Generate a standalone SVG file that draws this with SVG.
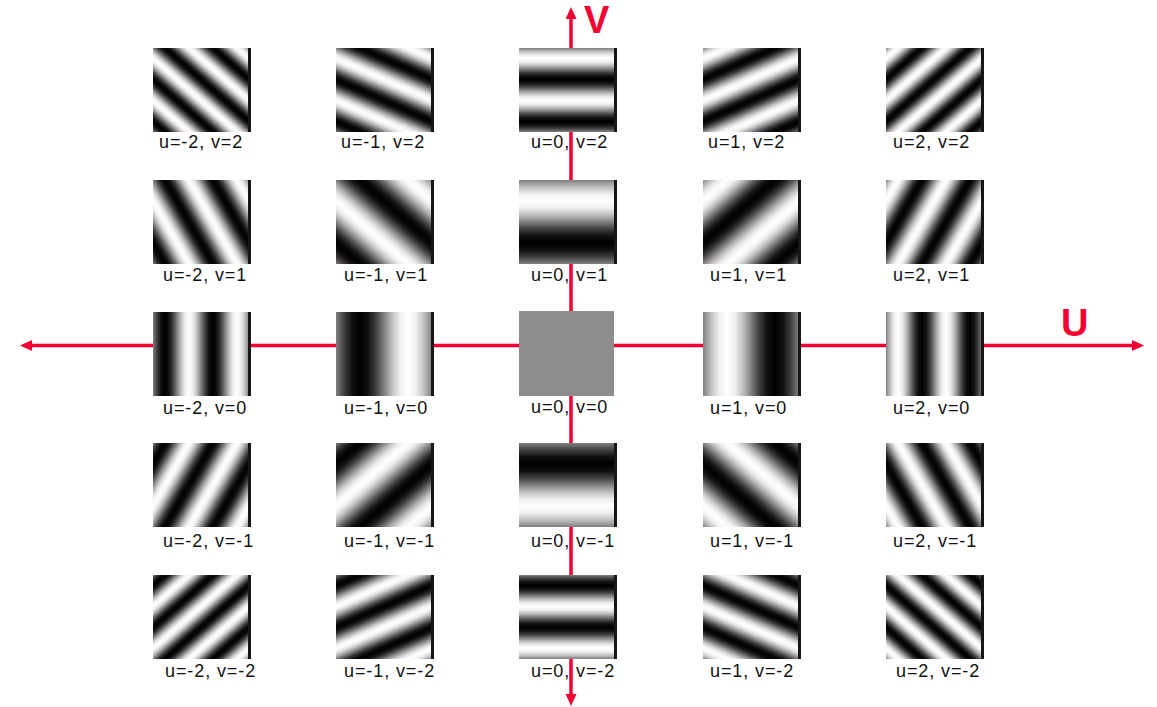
<svg xmlns="http://www.w3.org/2000/svg" xmlns:xlink="http://www.w3.org/1999/xlink" width="1157" height="707" viewBox="0 0 1157 707">
<style>
.lbl{font-family:"Liberation Sans",Arial,sans-serif;font-size:18px;fill:#111;letter-spacing:0.9px}
.axl{font-family:"Liberation Sans",Arial,sans-serif;font-size:38px;font-weight:bold;fill:#f50032}
.edge{fill:#161616}
.axis{stroke:#f50032;stroke-width:3.5;fill:none}
</style>
<defs>
<linearGradient id="wave" gradientUnits="userSpaceOnUse" spreadMethod="repeat" x1="0" y1="0" x2="0" y2="84">
<stop offset="0" stop-color="#808080"/>
<stop offset="0.0833" stop-color="#bfbfbf"/>
<stop offset="0.1667" stop-color="#eeeeee"/>
<stop offset="0.25" stop-color="#ffffff"/>
<stop offset="0.3333" stop-color="#eeeeee"/>
<stop offset="0.4167" stop-color="#bfbfbf"/>
<stop offset="0.5" stop-color="#808080"/>
<stop offset="0.5833" stop-color="#404040"/>
<stop offset="0.6667" stop-color="#111111"/>
<stop offset="0.75" stop-color="#000000"/>
<stop offset="0.8333" stop-color="#111111"/>
<stop offset="0.9167" stop-color="#404040"/>
<stop offset="1" stop-color="#808080"/>
</linearGradient>
<linearGradient id="g_m2_2" xlink:href="#wave" x1="0" y1="0" x2="-20.81" y2="23.79"/>
<linearGradient id="g_m1_2" xlink:href="#wave" x1="0" y1="0" x2="-15.42" y2="35.25"/>
<linearGradient id="g_0_2" xlink:href="#wave" x1="0" y1="0" x2="0" y2="42"/>
<linearGradient id="g_1_2" xlink:href="#wave" x1="0" y1="0" x2="15.42" y2="35.25"/>
<linearGradient id="g_2_2" xlink:href="#wave" x1="0" y1="0" x2="20.81" y2="23.79"/>
<linearGradient id="g_m2_1" xlink:href="#wave" x1="0" y1="0" x2="-36.18" y2="20.68"/>
<linearGradient id="g_m1_1" xlink:href="#wave" x1="0" y1="0" x2="-41.63" y2="47.58"/>
<linearGradient id="g_0_1" xlink:href="#wave" x1="0" y1="0" x2="0" y2="84"/>
<linearGradient id="g_1_1" xlink:href="#wave" x1="0" y1="0" x2="41.63" y2="47.58"/>
<linearGradient id="g_2_1" xlink:href="#wave" x1="0" y1="0" x2="36.18" y2="20.68"/>
<linearGradient id="g_m2_0" xlink:href="#wave" x1="0" y1="0" x2="-48" y2="0"/>
<linearGradient id="g_m1_0" xlink:href="#wave" x1="0" y1="0" x2="-96" y2="0"/>
<linearGradient id="g_1_0" xlink:href="#wave" x1="0" y1="0" x2="96" y2="0"/>
<linearGradient id="g_2_0" xlink:href="#wave" x1="0" y1="0" x2="48" y2="0"/>
<linearGradient id="g_m2_m1" xlink:href="#wave" x1="0" y1="0" x2="-36.18" y2="-20.68"/>
<linearGradient id="g_m1_m1" xlink:href="#wave" x1="0" y1="0" x2="-41.63" y2="-47.58"/>
<linearGradient id="g_0_m1" xlink:href="#wave" x1="0" y1="0" x2="0" y2="-84"/>
<linearGradient id="g_1_m1" xlink:href="#wave" x1="0" y1="0" x2="41.63" y2="-47.58"/>
<linearGradient id="g_2_m1" xlink:href="#wave" x1="0" y1="0" x2="36.18" y2="-20.68"/>
<linearGradient id="g_m2_m2" xlink:href="#wave" x1="0" y1="0" x2="-20.81" y2="-23.79"/>
<linearGradient id="g_m1_m2" xlink:href="#wave" x1="0" y1="0" x2="-15.42" y2="-35.25"/>
<linearGradient id="g_0_m2" xlink:href="#wave" x1="0" y1="0" x2="0" y2="-42"/>
<linearGradient id="g_1_m2" xlink:href="#wave" x1="0" y1="0" x2="15.42" y2="-35.25"/>
<linearGradient id="g_2_m2" xlink:href="#wave" x1="0" y1="0" x2="20.81" y2="-23.79"/>
<marker id="arrow" viewBox="0 0 12 11" refX="2" refY="5.5" markerWidth="12" markerHeight="11" markerUnits="userSpaceOnUse" orient="auto-start-reverse">
<path d="M0,0 L12,5.5 L0,11 Z" fill="#f50032"/>
</marker>
</defs>
<rect width="1157" height="707" fill="#ffffff"/>
<g id="connectors">
<line class="axis" x1="30" y1="345.5" x2="1134" y2="345.5" marker-start="url(#arrow)" marker-end="url(#arrow)"/>
<line class="axis" x1="571" y1="17" x2="571" y2="696" marker-start="url(#arrow)" marker-end="url(#arrow)"/>
<text class="axl" x="584" y="33">V</text>
<text class="axl" x="1061" y="336">U</text>
</g>
<!-- row v=2 -->
<g id="tile-u-2-v2" transform="translate(153,48)"><rect width="98" height="84" fill="url(#g_m2_2)"/><rect class="edge" x="95" width="3" height="84"/><text class="lbl" x="6" y="100">u=-2, v=2</text></g>
<g id="tile-u-1-v2" transform="translate(336,48)"><rect width="98" height="84" fill="url(#g_m1_2)"/><rect class="edge" x="95" width="3" height="84"/><text class="lbl" x="5" y="100">u=-1, v=2</text></g>
<g id="tile-u0-v2" transform="translate(519,48)"><rect width="98" height="84" fill="url(#g_0_2)"/><rect class="edge" x="95" width="3" height="84"/><text class="lbl" x="12" y="100">u=0, v=2</text></g>
<g id="tile-u1-v2" transform="translate(703,48)"><rect width="98" height="84" fill="url(#g_1_2)"/><rect class="edge" x="95" width="3" height="84"/><text class="lbl" x="5" y="100">u=1, v=2</text></g>
<g id="tile-u2-v2" transform="translate(886,48)"><rect width="98" height="84" fill="url(#g_2_2)"/><rect class="edge" x="95" width="3" height="84"/><text class="lbl" x="7" y="100">u=2, v=2</text></g>
<!-- row v=1 -->
<g id="tile-u-2-v1" transform="translate(153,180)"><rect width="98" height="84" fill="url(#g_m2_1)"/><rect class="edge" x="95" width="3" height="84"/><text class="lbl" x="10" y="101">u=-2, v=1</text></g>
<g id="tile-u-1-v1" transform="translate(336,180)"><rect width="98" height="84" fill="url(#g_m1_1)"/><rect class="edge" x="95" width="3" height="84"/><text class="lbl" x="8" y="101">u=-1, v=1</text></g>
<g id="tile-u0-v1" transform="translate(519,180)"><rect width="98" height="84" fill="url(#g_0_1)"/><rect class="edge" x="95" width="3" height="84"/><text class="lbl" x="12" y="101">u=0, v=1</text></g>
<g id="tile-u1-v1" transform="translate(703,180)"><rect width="98" height="84" fill="url(#g_1_1)"/><rect class="edge" x="95" width="3" height="84"/><text class="lbl" x="7" y="101">u=1, v=1</text></g>
<g id="tile-u2-v1" transform="translate(886,180)"><rect width="98" height="84" fill="url(#g_2_1)"/><rect class="edge" x="95" width="3" height="84"/><text class="lbl" x="7" y="101">u=2, v=1</text></g>
<!-- row v=0 -->
<g id="tile-u-2-v0" transform="translate(153,312)"><rect width="98" height="84" fill="url(#g_m2_0)"/><rect class="edge" x="95" width="3" height="84"/><text class="lbl" x="10" y="102">u=-2, v=0</text></g>
<g id="tile-u-1-v0" transform="translate(336,312)"><rect width="98" height="84" fill="url(#g_m1_0)"/><rect class="edge" x="95" width="3" height="84"/><text class="lbl" x="8" y="102">u=-1, v=0</text></g>
<g id="tile-u0-v0" transform="translate(519,311)"><rect width="95" height="85" fill="#8d8d8d"/><text class="lbl" x="12" y="102">u=0, v=0</text></g>
<g id="tile-u1-v0" transform="translate(703,312)"><rect width="98" height="84" fill="url(#g_1_0)"/><rect class="edge" x="95" width="3" height="84"/><text class="lbl" x="7" y="102">u=1, v=0</text></g>
<g id="tile-u2-v0" transform="translate(886,312)"><rect width="98" height="84" fill="url(#g_2_0)"/><rect class="edge" x="95" width="3" height="84"/><text class="lbl" x="7" y="102">u=2, v=0</text></g>
<!-- row v=-1 -->
<g id="tile-u-2-v-1" transform="translate(153,443)"><rect width="98" height="84" fill="url(#g_m2_m1)"/><rect class="edge" x="95" width="3" height="84"/><text class="lbl" x="10" y="104">u=-2, v=-1</text></g>
<g id="tile-u-1-v-1" transform="translate(336,443)"><rect width="98" height="84" fill="url(#g_m1_m1)"/><rect class="edge" x="95" width="3" height="84"/><text class="lbl" x="8" y="104">u=-1, v=-1</text></g>
<g id="tile-u0-v-1" transform="translate(519,443)"><rect width="98" height="84" fill="url(#g_0_m1)"/><rect class="edge" x="95" width="3" height="84"/><text class="lbl" x="12" y="104">u=0, v=-1</text></g>
<g id="tile-u1-v-1" transform="translate(703,443)"><rect width="98" height="84" fill="url(#g_1_m1)"/><rect class="edge" x="95" width="3" height="84"/><text class="lbl" x="7" y="104">u=1, v=-1</text></g>
<g id="tile-u2-v-1" transform="translate(886,443)"><rect width="98" height="84" fill="url(#g_2_m1)"/><rect class="edge" x="95" width="3" height="84"/><text class="lbl" x="7" y="104">u=2, v=-1</text></g>
<!-- row v=-2 -->
<g id="tile-u-2-v-2" transform="translate(153,575)"><rect width="98" height="84" fill="url(#g_m2_m2)"/><rect class="edge" x="95" width="3" height="84"/><text class="lbl" x="12" y="102">u=-2, v=-2</text></g>
<g id="tile-u-1-v-2" transform="translate(336,575)"><rect width="98" height="84" fill="url(#g_m1_m2)"/><rect class="edge" x="95" width="3" height="84"/><text class="lbl" x="8" y="102">u=-1, v=-2</text></g>
<g id="tile-u0-v-2" transform="translate(519,575)"><rect width="98" height="84" fill="url(#g_0_m2)"/><rect class="edge" x="95" width="3" height="84"/><text class="lbl" x="12" y="102">u=0, v=-2</text></g>
<g id="tile-u1-v-2" transform="translate(703,575)"><rect width="98" height="84" fill="url(#g_1_m2)"/><rect class="edge" x="95" width="3" height="84"/><text class="lbl" x="7" y="102">u=1, v=-2</text></g>
<g id="tile-u2-v-2" transform="translate(886,575)"><rect width="98" height="84" fill="url(#g_2_m2)"/><rect class="edge" x="95" width="3" height="84"/><text class="lbl" x="10" y="102">u=2, v=-2</text></g>
</svg>
